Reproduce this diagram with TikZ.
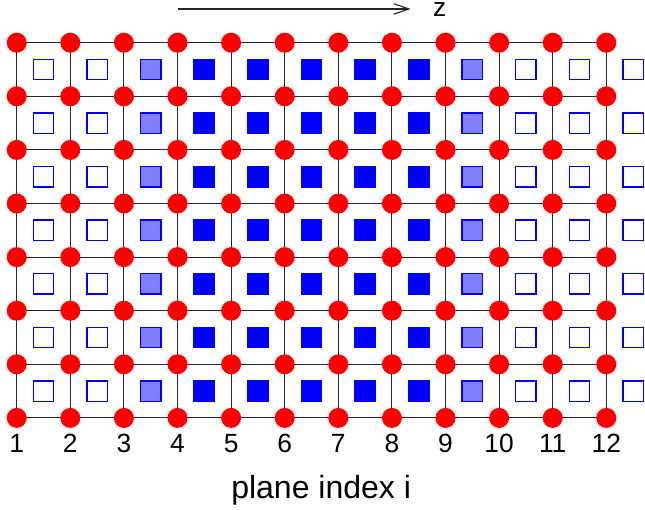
\documentclass[tikz,border=0pt]{standalone}
\usepackage{fontspec}
\setmainfont{Liberation Sans}
\usetikzlibrary{arrows.meta,backgrounds}
\definecolor{sitered}{RGB}{255,0,0}
\definecolor{fullblue}{RGB}{0,0,255}
\definecolor{halfblue}{RGB}{128,128,255}

\begin{document}
\begin{tikzpicture}[
    gridline/.style={black!85,line width=0.55pt},
    site/.style={circle,fill=sitered,inner sep=0pt,minimum size=0.374cm},
    cell/.style={draw=fullblue,line width=0.75pt,inner sep=0pt,minimum size=0.38cm},
    planenum/.style={font=\fontsize{14}{16}\selectfont}
  ]
  \useasboundingbox (-0.312,-1.718) rectangle (11.722,7.797);
  % lattice sites
  \foreach \c in {0,...,11}
    \foreach \r in {0,...,7}
      \node[site] (s-\c-\r) at (\c,\r) {};
  % grid lines between sites
  \begin{scope}[on background layer]
  \foreach \r in {0,...,7}
    \draw[gridline] (s-0-\r.center) -- (s-11-\r.center);
  \foreach \c in {0,...,11}
    \draw[gridline] (s-\c-0.center) -- (s-\c-7.center);
  \end{scope}
  % cells: open, half filled, filled
  \foreach \c in {0,...,11}{
    \ifnum\c<2 \def\cellfill{white}\else
    \ifnum\c>8 \def\cellfill{white}\else
    \ifnum\c=2 \def\cellfill{halfblue}\else
    \ifnum\c=8 \def\cellfill{halfblue}\else
    \def\cellfill{fullblue}\fi\fi\fi\fi
    \foreach \r in {0,...,6}
      \node[cell,fill=\cellfill] (q-\c-\r) at (\c+0.5,\r+0.5) {};
  }
  % plane numbers
  \foreach \c in {0,...,11}{
    \pgfmathtruncatemacro{\plane}{\c+1}
    \node[planenum] (n-\c) at (\c,-0.47) {\plane};
  }
  \node[font=\fontsize{17}{20}\selectfont] (axislabel) at (5.68,-1.355) {plane index i};
  % z direction
  \coordinate (zfrom) at (3.0,7.63);
  \coordinate (zto) at (7.35,7.63);
  \draw[-{Straight Barb[length=8pt,width=5.5pt]},line width=0.6pt,black!85] (zfrom) -- (zto);
  \node[planenum,inner sep=0pt] (zlabel) at (7.89,7.61) {z};
\end{tikzpicture}
\end{document}
